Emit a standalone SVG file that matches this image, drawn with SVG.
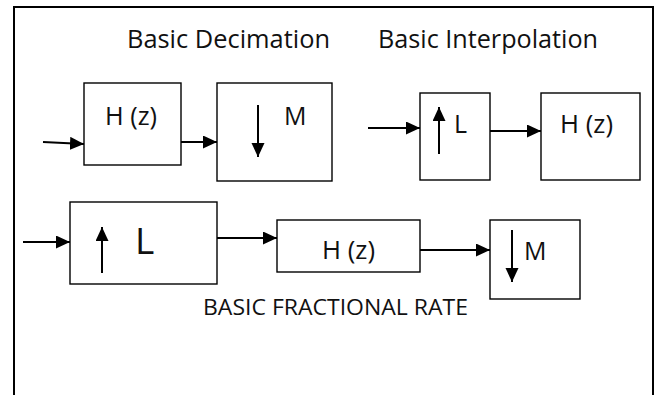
<svg xmlns="http://www.w3.org/2000/svg" width="660" height="395" viewBox="0 0 660 395">
<defs>
<marker id="ah" markerUnits="userSpaceOnUse" markerWidth="15" markerHeight="14" refX="14" refY="6.5" orient="auto">
<path d="M0,0 L14,6.5 L0,13 Z" fill="#000"/>
</marker>
<style>
.box{fill:#fff;stroke:#000;stroke-width:1.4}
.ln{stroke:#000;stroke-width:2;fill:none}
.ar{stroke:#000;stroke-width:2;fill:none;marker-end:url(#ah)}
text{font-family:"Open Sans","Liberation Sans",Arial,sans-serif;fill:#111}
.t{font-size:25px}
</style>
</defs>
<rect width="660" height="395" fill="#fff"/>
<path class="ln" d="M14,400 V7 H653 V400"/>
<g id="titles">
<text class="t" x="127" y="48" textLength="203" lengthAdjust="spacingAndGlyphs">Basic Decimation</text>
<text class="t" x="378" y="48" textLength="220" lengthAdjust="spacingAndGlyphs">Basic Interpolation</text>
<text x="203" y="315" font-size="21" textLength="265" lengthAdjust="spacingAndGlyphs">BASIC FRACTIONAL RATE</text>
</g>
<g id="dec-h">
<rect class="box" x="84" y="83" width="97" height="82"/>
<text class="t" x="105" y="125" textLength="52" lengthAdjust="spacingAndGlyphs">H (z)</text>
</g>
<g id="dec-m">
<rect class="box" x="217" y="83" width="115" height="98"/>
<line class="ar" x1="258" y1="105" x2="258" y2="157"/>
<text class="t" x="284" y="125">M</text>
</g>
<g id="int-l">
<rect class="box" x="420" y="93" width="70" height="87"/>
<line class="ar" x1="439" y1="154" x2="439" y2="107"/>
<text class="t" x="454" y="133">L</text>
</g>
<g id="int-h">
<rect class="box" x="541" y="93" width="99" height="87"/>
<text class="t" x="560" y="133" textLength="53" lengthAdjust="spacingAndGlyphs">H (z)</text>
</g>
<g id="fr-l">
<rect class="box" x="70" y="202" width="147" height="82"/>
<line class="ar" x1="102" y1="273" x2="102" y2="227"/>
<text x="135" y="254" font-size="37">L</text>
</g>
<g id="fr-h">
<rect class="box" x="277" y="220" width="143" height="52"/>
<text class="t" x="322" y="259" textLength="53" lengthAdjust="spacingAndGlyphs">H (z)</text>
</g>
<g id="fr-m">
<rect class="box" x="490" y="220" width="90" height="79"/>
<line class="ar" x1="512" y1="230" x2="512" y2="282"/>
<text class="t" x="524" y="260">M</text>
</g>
<g id="connectors">
<line class="ar" x1="43" y1="142" x2="84" y2="144"/>
<line class="ar" x1="181" y1="142" x2="217" y2="142"/>
<line class="ar" x1="368" y1="128" x2="420" y2="128"/>
<line class="ar" x1="490" y1="131" x2="541" y2="131"/>
<line class="ar" x1="23" y1="242" x2="70" y2="242"/>
<line class="ar" x1="217" y1="238" x2="277" y2="238"/>
<line class="ar" x1="420" y1="250" x2="490" y2="250"/>
</g>
</svg>
